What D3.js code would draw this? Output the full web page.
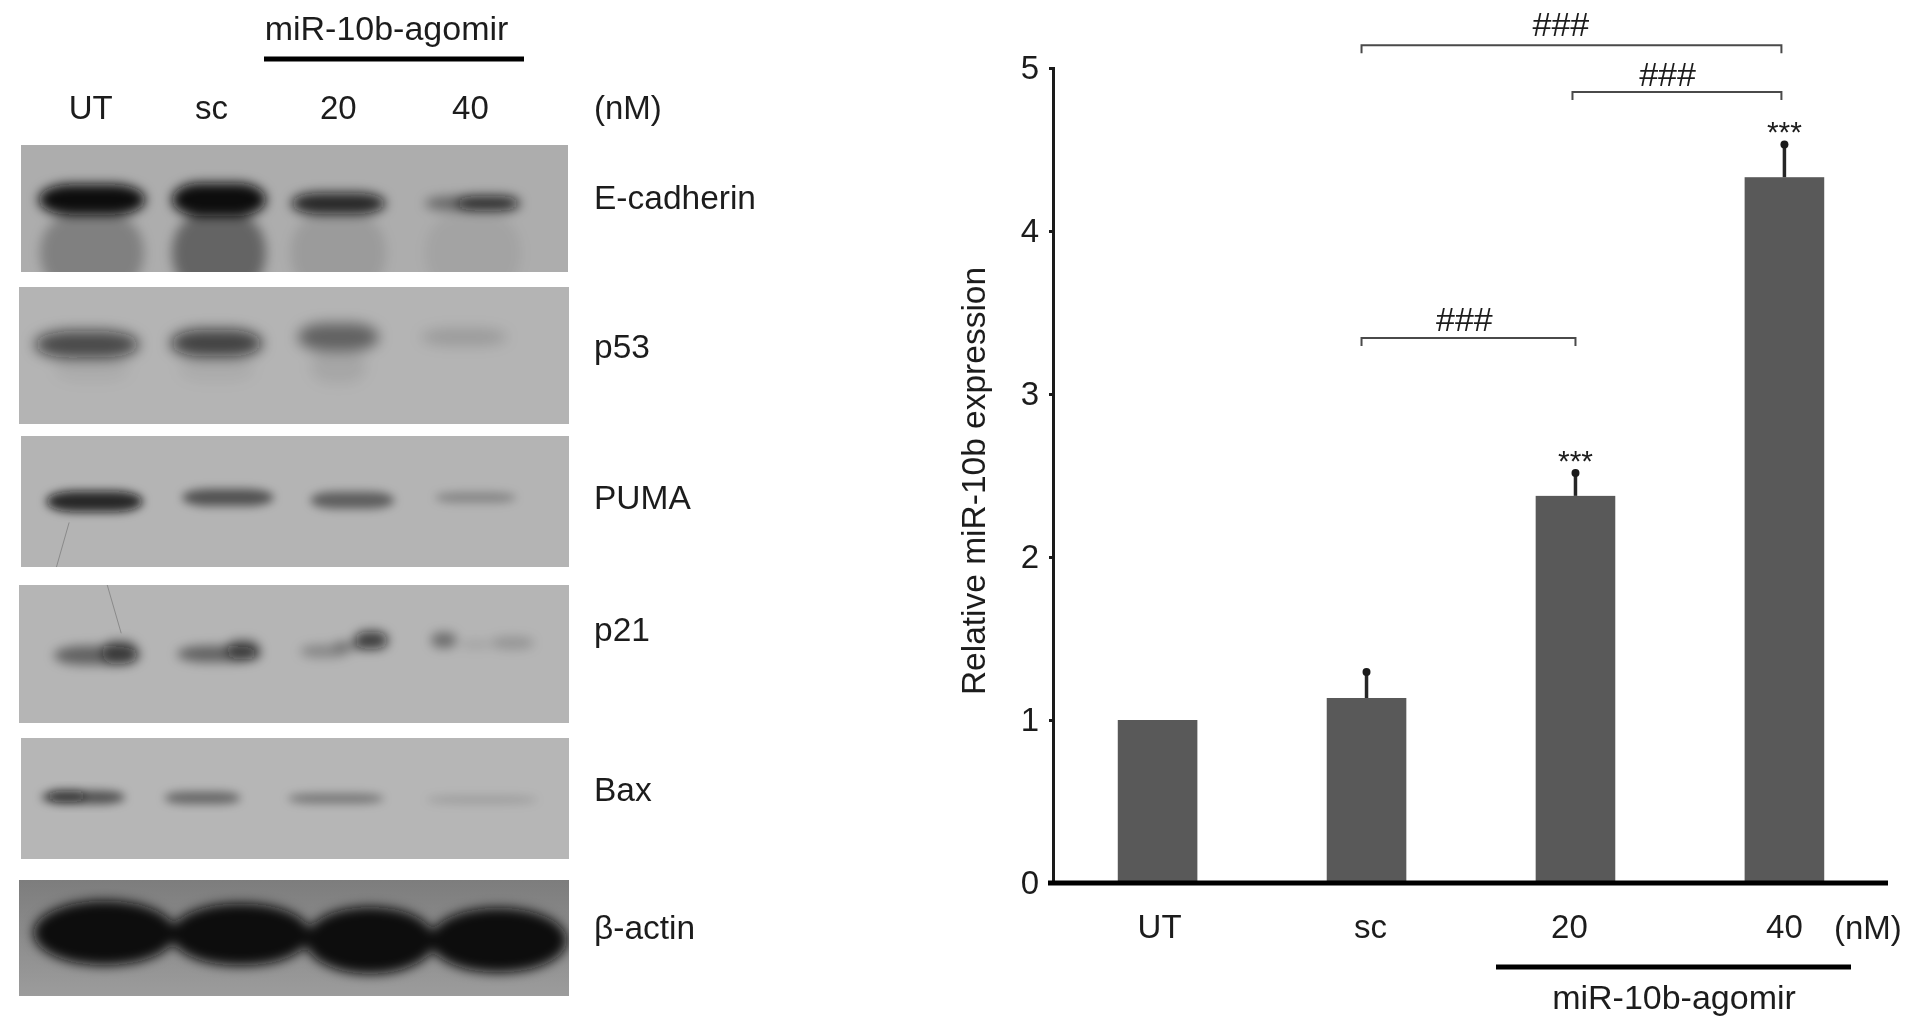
<!DOCTYPE html>
<html><head><meta charset="utf-8">
<script src="https://cdn.jsdelivr.net/npm/d3@7"></script>
<style>html,body{margin:0;background:#fff;overflow:hidden}svg{display:block}text{font-family:"Liberation Sans",Arial,sans-serif;fill:#1e1e1e}</style>
</head><body><svg id="c" width="1913" height="1029"></svg>
<script>
// ---- bar chart data ----
const categories = ["UT","sc","20","40"];
const expression = [1.0,1.135,2.375,4.33];
const errors = [0,0.16,0.14,0.2];
const yTicks = [0,1,2,3,4,5];
const stars = ["","","***","***"];
const comparisons = [["sc","40",5.14],["20","40",4.853],["sc","20",3.344]];
// ---- blot data: [lane, position %, half width (lanes), half height %, ink] ----
const blotNames = ["E-cadherin","p53","PUMA","p21","Bax","β-actin"];
const blotLabelPos = [41,43,46.5,32,42,40.5];
const blotBackground = ["#adadad","#b4b4b4","#b4b4b4","#b5b5b5","#b6b6b6","#8e8e8e"];
const eCadherinBands = [[0,85,.41,30,.26],[1,85,.37,30,.42],[1.94,85,.38,30,.1],[3,85,.38,30,.06],
  [0,43,.42,12,1],[1,43,.37,13,1],[1.94,46,.37,8.5,.85],[2.98,46,.36,5.5,.42],[3.12,46,.25,6,.72]];
const p53Bands = [[-.04,42,.41,10,.66],[.98,41,.36,10,.7],[1.94,36.5,.32,10,.46],[2.93,36.5,.34,6,.15],[0,60,.3,9,.05],[.98,60,.3,9,.05],[1.94,58,.22,12,.08]];
const pumaBands = [[.02,50,.38,8,.85],[1.07,47,.36,6.5,.55],[2.05,49,.33,6.5,.48],[3.02,47,.32,4,.26]];
const p21Bands = [[.04,51,.34,7,.46],[.22,49,.14,8.5,.55],[1,50,.33,6,.46],[1.19,47,.13,7,.55],
  [1.83,48,.19,4.5,.26],[2.03,44,.13,3.5,.3],[2.2,40,.13,6.5,.72],[2.77,40,.1,5.5,.4],[3.31,42,.17,4.5,.18],[3.02,43,.12,3,.1]];
const baxBands = [[-.07,49,.33,5.5,.56],[-.2,48,.15,5,.5],[.87,49.5,.3,5,.44],[1.92,50,.38,4,.36],[3.07,51,.44,3.5,.13]];
const actinBands = [[.1,45.7,.56,28,1],[1.17,47,.55,27,1],[2.19,52,.51,29,1],[3.2,52,.54,28,1]];
const blotBands = [eCadherinBands,p53Bands,pumaBands,p21Bands,baxBands,actinBands];
const blotBlur = [6,7,5,5.5,5,6];
const blotRound = [.6,.7,.6,.7,.6,1];

const svg = d3.select("#c");
const defs = svg.append("defs");
blotBlur.forEach((s,i)=>defs.append("filter").attr("id","b"+i).attr("x","-30%").attr("y","-60%").attr("width","160%").attr("height","220%")
  .append("feGaussianBlur").attr("stdDeviation",s));
defs.append("filter").attr("id","soft").append("feGaussianBlur").attr("stdDeviation",.55);
const grad = defs.append("linearGradient").attr("id","actinBg").attr("x1",0).attr("y1",0).attr("x2",0).attr("y2",1);
grad.append("stop").attr("offset",0).attr("stop-color","#7d7d7d");
grad.append("stop").attr("offset",1).attr("stop-color","#9c9c9c");

// ---- left: blots ----
const laneX = d3.scaleLinear().domain([0,3]).range([92,473]);
const laneUnit = laneX(1)-laneX(0);
const panelBox = [[21,568,145,272],[19,569,287,424],[21,569,436,567],[19,569,585,723],[21,569,738,859],[19,569,880,996]];
const left = svg.append("g");
panelBox.forEach((b,i)=>{
  const py = d3.scaleLinear().domain([0,100]).range([b[2],b[3]]);
  defs.append("clipPath").attr("id","clip"+i).append("rect").attr("x",b[0]).attr("y",b[2]).attr("width",b[1]-b[0]).attr("height",b[3]-b[2]);
  const g = left.append("g").attr("clip-path",`url(#clip${i})`);
  g.append("rect").attr("x",b[0]).attr("y",b[2]).attr("width",b[1]-b[0]).attr("height",b[3]-b[2])
    .attr("fill",i===5?"url(#actinBg)":blotBackground[i]);
  g.append("g").attr("filter",`url(#b${i})`).selectAll("rect").data(blotBands[i]).join("rect")
    .attr("x",d=>laneX(d[0])-d[2]*laneUnit)
    .attr("width",d=>2*d[2]*laneUnit)
    .attr("y",d=>py(d[1]-d[3]))
    .attr("height",d=>py(d[1]+d[3])-py(d[1]-d[3]))
    .attr("rx",d=>d[2]*laneUnit*blotRound[i])
    .attr("ry",d=>py(d[3])-py(0))
    .attr("fill","#0a0a0a").attr("fill-opacity",d=>d[4]);
  left.append("text").attr("x",594).attr("y",py(blotLabelPos[i])).attr("dy","0.36em")
    .attr("font-size",33.5).text(blotNames[i]);
});
// hairline scratches on the film
const scratches = [[2,-.18,66,-.28,100],[3,.12,0,.23,35]];
scratches.forEach(s=>{
  const b = panelBox[s[0]], py = d3.scaleLinear().domain([0,100]).range([b[2],b[3]]);
  left.append("line").attr("x1",laneX(s[1])).attr("y1",py(s[2])).attr("x2",laneX(s[3])).attr("y2",py(s[4]))
    .attr("stroke","#8a8a8a").attr("stroke-width",1);
});
const laneLabelPos = [-.01,.94,1.94,2.98];
left.selectAll("text.lane").data(categories).join("text").attr("class","lane")
  .attr("x",(d,i)=>laneX(laneLabelPos[i])).attr("y",107).attr("dy","0.36em").attr("text-anchor","middle").attr("font-size",33).text(d=>d);
left.append("text").attr("x",594).attr("y",107).attr("dy","0.36em").attr("font-size",33).text("(nM)");
left.append("text").attr("x",386.5).attr("y",28).attr("dy","0.36em").attr("text-anchor","middle").attr("font-size",34).text("miR-10b-agomir");
left.append("line").attr("x1",264).attr("x2",524).attr("y1",59).attr("y2",59).attr("stroke","#000").attr("stroke-width",5);

// ---- right: bar chart ----
const x = d3.scaleBand().domain(categories).range([1053,1889]).paddingInner(.619).paddingOuter(.31);
const y = d3.scaleLinear().domain([0,5]).range([883,68]);
const cx = c=>x(c)+x.bandwidth()/2;
const chart = svg.append("g");
chart.selectAll("rect.bar").data(categories).join("rect").attr("class","bar")
  .attr("x",d=>x(d)).attr("width",x.bandwidth())
  .attr("y",(d,i)=>y(expression[i])).attr("height",(d,i)=>y(0)-y(expression[i])).attr("fill","#595959");
const eb = categories.map((c,i)=>({c,v:expression[i],e:errors[i]})).filter(d=>d.e>0);
chart.selectAll("line.err").data(eb).join("line").attr("class","err")
  .attr("x1",d=>cx(d.c)).attr("x2",d=>cx(d.c)).attr("y1",d=>y(d.v)).attr("y2",d=>y(d.v+d.e))
  .attr("stroke","#262626").attr("stroke-width",3.5);
chart.selectAll("circle.cap").data(eb).join("circle").attr("class","cap")
  .attr("cx",d=>cx(d.c)).attr("cy",d=>y(d.v+d.e)).attr("r",4).attr("fill","#1a1a1a");
chart.selectAll("text.star").data(categories).join("text").attr("class","star")
  .attr("x",d=>cx(d)).attr("y",(d,i)=>y(expression[i]+errors[i])-21).attr("dy","0.62em").attr("text-anchor","middle").attr("font-size",30)
  .text((d,i)=>stars[i]);
const yAxis = d3.axisLeft(y).tickValues(yTicks).tickSize(4).tickPadding(10).tickFormat(d3.format("d"));
const ya = chart.append("g").attr("transform","translate(1053,0)").call(yAxis);
ya.attr("font-family",null);
ya.select(".domain").attr("stroke","#1a1a1a").attr("stroke-width",3);
ya.selectAll(".tick line").attr("stroke","#1a1a1a").attr("stroke-width",3);
ya.selectAll(".tick text").attr("font-size",33).attr("dy","0.33em").style("fill","#1e1e1e");
const xAxis = d3.axisBottom(x).tickSize(0).tickPadding(32);
const xa = chart.append("g").attr("transform","translate(0,883)").call(xAxis);
xa.attr("font-family",null);
xa.select(".domain").attr("stroke","#000").attr("stroke-width",5).attr("d","M1048,0H1888");
const xLabelShift = [2,4,-6,0];
xa.selectAll(".tick text").attr("font-size",33).attr("dx",(d,i)=>xLabelShift[i]).style("fill","#1e1e1e");
chart.append("text").attr("x",1834).attr("y",927).attr("dy","0.36em").attr("font-size",33).text("(nM)");
chart.append("line").attr("x1",1496).attr("x2",1851).attr("y1",967).attr("y2",967).attr("stroke","#000").attr("stroke-width",5);
chart.append("text").attr("x",1674).attr("y",997).attr("dy","0.36em").attr("text-anchor","middle").attr("font-size",34).text("miR-10b-agomir");
chart.append("text").attr("transform","translate(973,481) rotate(-90)").attr("dy","0.36em").attr("text-anchor","middle")
  .attr("font-size",33.5).text("Relative miR-10b expression");
const bracketShift = {sc:-5,"20":-3,"40":-3};
const hashY = [-21,-18,-19];
const hashShift = [2,1,-2];
comparisons.forEach((c,i)=>{
  const x0=cx(c[0])+bracketShift[c[0]], x1=cx(c[1])+(c[1]==="20"?0:bracketShift[c[1]]), yy=y(c[2]);
  chart.append("path").attr("d",`M${x0},${yy+8}V${yy}H${x1}V${yy+8}`).attr("fill","none").attr("stroke","#4a4a4a").attr("stroke-width",2);
  chart.append("text").attr("x",hashShift[i]+x0+(x1-x0)*(c[0]==="20"?.45:(c[1]==="20"?.49:.47))).attr("y",yy+hashY[i]).attr("dy","0.36em")
    .attr("text-anchor","middle").attr("font-size",34).text("###");
});
svg.selectAll("text").attr("filter","url(#soft)");
</script></body></html>
